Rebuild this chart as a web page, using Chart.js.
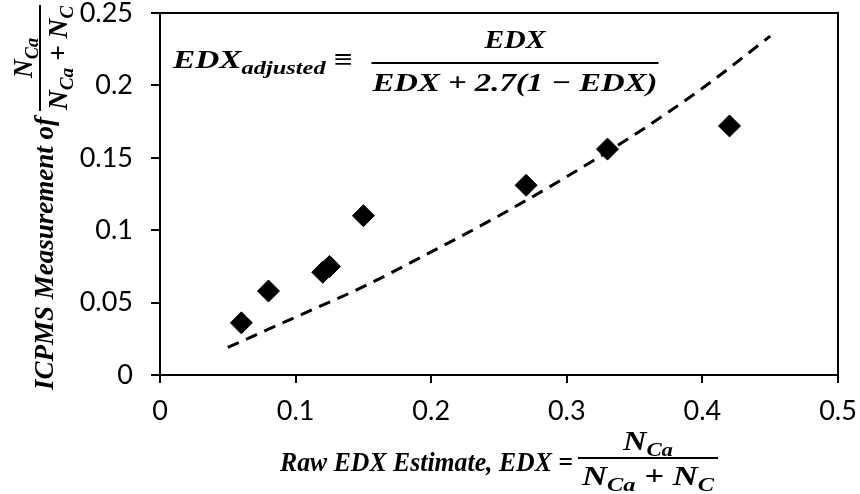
<!DOCTYPE html>
<html>
<head>
<meta charset="utf-8">
<script src="https://cdn.jsdelivr.net/npm/chart.js@4.4.1/dist/chart.umd.min.js"></script>
<style>
  html, body { margin: 0; padding: 0; background: #ffffff; }
  #wrap { width: 860px; height: 494px; position: relative; }
</style>
</head>
<body>
<div id="wrap"><canvas id="chart" width="860" height="494"></canvas></div>
<script>
// ---- data ----
const rawEdx   = [0.06, 0.08, 0.12, 0.125, 0.15, 0.27, 0.33, 0.42];
const icpms    = [0.036, 0.058, 0.071, 0.075, 0.110, 0.131, 0.156, 0.172];
const adjX     = [0.05, 0.10, 0.15, 0.20, 0.25, 0.30, 0.35, 0.40, 0.45];
const adjY     = [0.019, 0.040, 0.061, 0.085, 0.110, 0.137, 0.166, 0.198, 0.234];
const xRange   = [0, 0.5];
const yRange   = [0, 0.25];
const xStep    = 0.1;
const yStep    = 0.05;

// ---- texts ----
const yTitleMain  = [['ICPMS Measurement of', 'n']];
const fracNum     = [['N', 'n'], ['Ca', 's']];
const fracDen     = [['N', 'n'], ['Ca', 's'], [' + ', 'n'], ['N', 'n'], ['C', 's']];
const xTitleMain  = [['Raw EDX Estimate, EDX =', 'n']];
const annLeft     = [['EDX', 'n'], ['adjusted', 's'], [' \u2261', 'n']];
const annNum      = [['EDX', 'n']];
const annDen      = [['EDX + 2.7(1 \u2212 EDX)', 'n']];

const SERIF = '"Liberation Serif", "Times New Roman", serif';
function runFont(size, sub) {
  return 'italic bold ' + (sub ? Math.round(size * 0.72) : size) + 'px ' + SERIF;
}
function measureRuns(ctx, runs, size) {
  let w = 0;
  for (const [t, k] of runs) { ctx.font = runFont(size, k === 's'); w += ctx.measureText(t).width; }
  return w;
}
function drawRuns(ctx, runs, x, y, size, align, target) {
  const nat = measureRuns(ctx, runs, size);
  const sx = target ? target / nat : 1;
  const w = nat * sx;
  const left = align === 'center' ? x - w / 2 : (align === 'right' ? x - w : x);
  ctx.save();
  ctx.translate(left, y);
  ctx.scale(sx, 1);
  ctx.textAlign = 'left';
  ctx.textBaseline = 'alphabetic';
  ctx.fillStyle = '#000';
  let cx = 0;
  for (const [t, k] of runs) {
    ctx.font = runFont(size, k === 's');
    ctx.fillText(t, cx, k === 's' ? size * 0.22 : 0);
    cx += ctx.measureText(t).width;
  }
  ctx.restore();
}
function drawFraction(ctx, num, den, cx, barY, barW, size, numBase, denBase, numW, denW) {
  ctx.save();
  ctx.fillStyle = '#000';
  ctx.fillRect(cx - barW / 2, barY - 1, barW, 2);
  ctx.restore();
  drawRuns(ctx, num, cx, barY - numBase, size, 'center', numW);
  drawRuns(ctx, den, cx, barY + denBase, size, 'center', denW);
}

const titlesPlugin = {
  id: 'titles',
  afterDraw(chart) {
    const ctx = chart.ctx;
    const a = chart.chartArea;
    // top and right frame lines
    ctx.save();
    ctx.strokeStyle = '#000';
    ctx.lineWidth = 2;
    ctx.beginPath();
    ctx.moveTo(a.left, a.top);
    ctx.lineTo(a.right, a.top);
    ctx.lineTo(a.right, a.bottom);
    ctx.stroke();
    ctx.restore();

    // y-axis title (rotated)
    ctx.save();
    ctx.rotate(-Math.PI / 2);
    drawRuns(ctx, yTitleMain, -390, 53, 27, 'left', 273);
    drawFraction(ctx, fracNum, fracDen, -58, 40, 106, 27, 8, 27, 40, 104);
    ctx.restore();

    // x-axis title
    drawRuns(ctx, xTitleMain, 280, 471, 27, 'left', 293);
    drawFraction(ctx, fracNum, fracDen, 648, 458, 140, 27, 8, 27, 50, 132);

    // annotation formula
    drawRuns(ctx, annLeft, 173, 68, 26, 'left', 180);
    drawFraction(ctx, annNum, annDen, 515, 63, 287, 26, 15, 28, 61, 285);
  }
};

const ctx = document.getElementById('chart').getContext('2d');
new Chart(ctx, {
  type: 'scatter',
  data: {
    datasets: [
      {
        label: 'ICPMS',
        data: rawEdx.map((x, i) => ({ x: x, y: icpms[i] })),
        pointStyle: 'rectRot',
        pointRadius: 11,
        pointHoverRadius: 11,
        backgroundColor: '#000',
        borderColor: '#000',
        borderWidth: 1,
        order: 1
      },
      {
        label: 'EDX adjusted',
        data: adjX.map((x, i) => ({ x: x, y: adjY[i] })),
        showLine: true,
        pointRadius: 0,
        pointHoverRadius: 0,
        borderColor: '#000',
        backgroundColor: '#000',
        borderWidth: 3,
        borderDash: [12, 8],
        cubicInterpolationMode: 'monotone',
        fill: false,
        order: 2
      }
    ]
  },
  options: {
    responsive: false,
    animation: false,
    devicePixelRatio: 1,
    layout: { padding: { top: 13, right: 22, left: 0, bottom: 0 } },
    plugins: { legend: { display: false }, tooltip: { enabled: false }, title: { display: false } },
    scales: {
      x: {
        type: 'linear',
        min: xRange[0], max: xRange[1],
        ticks: {
          stepSize: xStep,
          color: '#000',
          padding: 12,
          font: { family: 'Lato, "Open Sans", sans-serif', size: 27 },
          callback: v => String(+Number(v).toFixed(2))
        },
        grid: { display: true, drawOnChartArea: false, drawTicks: true, tickLength: 8, color: '#000', lineWidth: 2 },
        border: { display: true, color: '#000', width: 2 },
        title: { display: false },
        afterFit: s => { s.height = 119; s.paddingLeft = 0; s.paddingRight = 0; }
      },
      y: {
        type: 'linear',
        min: yRange[0], max: yRange[1],
        ticks: {
          stepSize: yStep,
          color: '#000',
          padding: 18,
          font: { family: 'Lato, "Open Sans", sans-serif', size: 27 },
          callback: v => String(+Number(v).toFixed(2))
        },
        grid: { display: true, drawOnChartArea: false, drawTicks: true, tickLength: 9, color: '#000', lineWidth: 2 },
        border: { display: true, color: '#000', width: 2 },
        title: { display: false },
        afterFit: s => { s.width = 160; s.paddingTop = 0; s.paddingBottom = 0; }
      }
    }
  },
  plugins: [titlesPlugin]
});
</script>
</body>
</html>
